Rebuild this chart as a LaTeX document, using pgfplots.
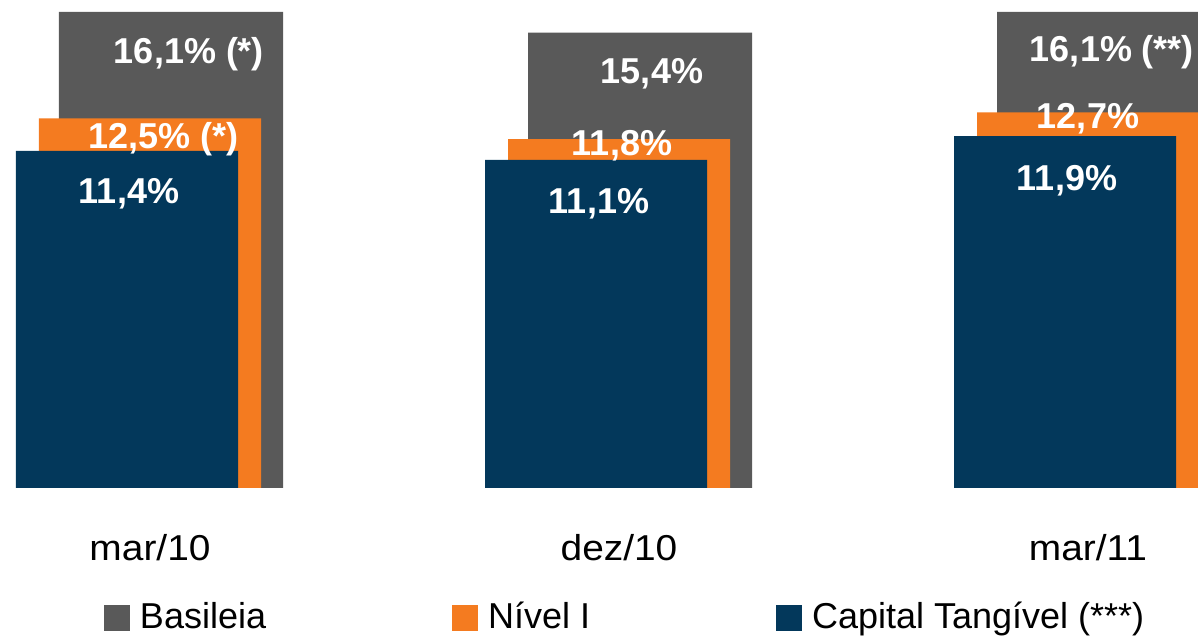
\documentclass[border=0pt]{standalone}
\usepackage{fontspec}
\setmainfont{Liberation Sans}
\usepackage{pgfplots}
\usepackage{pgfplotstable}
\pgfplotsset{compat=1.18}
\definecolor{cgray}{RGB}{89,89,89}
\definecolor{corange}{RGB}{244,123,32}
\definecolor{cblue}{RGB}{3,56,91}
\newcommand{\bigfont}{\fontsize{36}{43}\selectfont}

% x = period index (0 mar/10, 1 dez/10, 2 mar/11), y = ratio in %
\pgfplotstableread{
x y dx dy lab
0 16.1 18 51.1 {16,1\% (*)}
1 15.4 12 50.7 {15,4\%}
2 16.1 3 49.8 {16,1\% (**)}
}\tgray
\pgfplotstableread{
x y dx dy lab
0 12.5 13.7 29.9 {12,5\% (*)}
1 11.8 3 16.9 {11,8\%}
2 12.7 0 15.8 {12,7\%}
}\torange
\pgfplotstableread{
x y dx dy lab
0 11.4 2 53.1 {11,4\%}
1 11.1 3 53.5 {11,1\%}
2 11.9 2 53.9 {11,9\%}
}\tblue

\begin{document}
\begin{tikzpicture}
\begin{axis}[
  at={(0pt,0pt)}, anchor=south west,
  scale only axis, width=1198pt, height=488pt,
  xmin=-0.31983, xmax=2.23454, ymin=0, ymax=16.503,
  ybar,
  axis line style={draw=none},
  major tick length=0pt,
  ytick=\empty,
  xtick={0,1,2},
  xticklabels={mar/10,dez/10,mar/11},
  xticklabel style={font=\bigfont, anchor=base, yshift=-72pt, xscale=1.08, transform shape},
  nodes near coords style={font=\bigfont\bfseries, text=white, inner sep=0pt},
  legend columns=3,
  legend image code/.code={\fill[#1] (0pt,-2pt) rectangle (26pt,24pt);},
  legend style={draw=none, fill=none, inner sep=0pt, outer sep=0pt,
    at={(axis description cs:0.0868,-0.2930)}, anchor=south west,
    font=\bigfont,
    cells={anchor=base west},
    nodes={inner sep=0pt},
    /tikz/every odd column/.style={column sep=10pt},
    /tikz/every even column/.style={column sep=186pt}},
]
\addplot[fill=cgray, draw=none, bar width=224pt, bar shift=21pt,
  nodes near coords, point meta=explicit symbolic,
  visualization depends on={\thisrow{dx}\as\ldx},
  visualization depends on={\thisrow{dy}\as\ldy},
  every node near coord/.append style={anchor=base, xshift=\ldx pt, yshift=-\ldy pt}]
  table[x=x, y=y, meta=lab] {\tgray};
\addlegendentry{Basileia}
\addplot[fill=corange, draw=none, bar width=222pt, bar shift=0pt,
  nodes near coords, point meta=explicit symbolic,
  visualization depends on={\thisrow{dx}\as\ldx},
  visualization depends on={\thisrow{dy}\as\ldy},
  every node near coord/.append style={anchor=base, xshift=\ldx pt, yshift=-\ldy pt}]
  table[x=x, y=y, meta=lab] {\torange};
\addlegendentry{Nível I}
\addplot[fill=cblue, draw=none, bar width=222pt, bar shift=-23pt,
  nodes near coords, point meta=explicit symbolic,
  visualization depends on={\thisrow{dx}\as\ldx},
  visualization depends on={\thisrow{dy}\as\ldy},
  every node near coord/.append style={anchor=base, xshift=\ldx pt, yshift=-\ldy pt}]
  table[x=x, y=y, meta=lab] {\tblue};
\addlegendentry{Capital Tangível (***)}
\end{axis}
\pgfresetboundingbox
\path[use as bounding box] (0pt,-148pt) rectangle (1198pt,488pt);
\end{tikzpicture}
\end{document}
